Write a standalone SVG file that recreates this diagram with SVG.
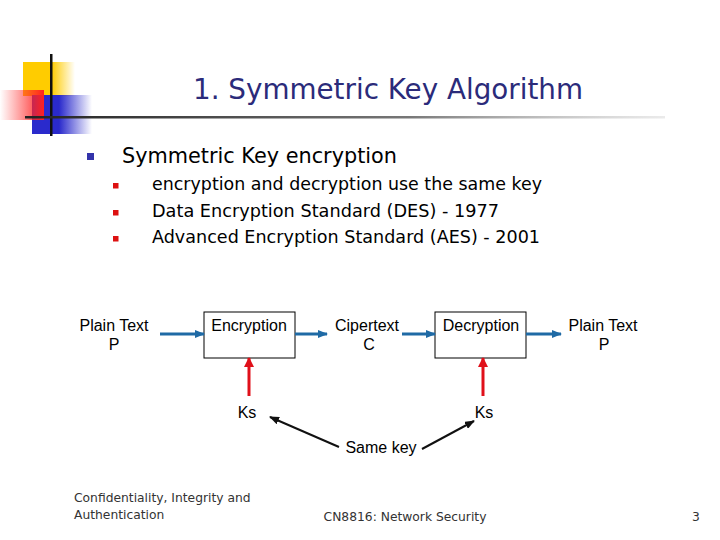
<svg xmlns="http://www.w3.org/2000/svg" width="720" height="540" viewBox="0 0 720 540">
<defs>
<linearGradient id="gy" x1="0" x2="1" y1="0" y2="0"><stop offset="0" stop-color="#ffcc00"/><stop offset="0.55" stop-color="#ffcc00"/><stop offset="1" stop-color="#ffcc00" stop-opacity="0"/></linearGradient>
<linearGradient id="gr" x1="0" x2="1" y1="0" y2="0"><stop offset="0" stop-color="#ff3333" stop-opacity="0"/><stop offset="1" stop-color="#ff2020"/></linearGradient>
<linearGradient id="gb" x1="0" x2="1" y1="0" y2="0"><stop offset="0" stop-color="#2a2acc"/><stop offset="0.45" stop-color="#2a2acc"/><stop offset="1" stop-color="#2a2acc" stop-opacity="0"/></linearGradient>
<linearGradient id="gl" x1="0" x2="1" y1="0" y2="0"><stop offset="0" stop-color="#222"/><stop offset="0.6" stop-color="#777"/><stop offset="1" stop-color="#bbb" stop-opacity="0.3"/></linearGradient>
<marker id="ab" markerWidth="10" markerHeight="8" refX="9" refY="4" orient="auto" markerUnits="userSpaceOnUse"><path d="M0,0 L10,4 L0,8 z" fill="#1f6aa5"/></marker>
<marker id="ar" markerWidth="10" markerHeight="10" refX="9" refY="5" orient="auto" markerUnits="userSpaceOnUse"><path d="M0,0 L10,5 L0,10 z" fill="#e0101a"/></marker>
<marker id="ak" markerWidth="10" markerHeight="8" refX="9" refY="4" orient="auto" markerUnits="userSpaceOnUse"><path d="M0,0 L10,4 L0,8 z" fill="#111"/></marker>
</defs>
<style>
.t{font-family:"DejaVu Sans",Verdana,sans-serif;fill:#2b2b7a}
.b{font-family:"DejaVu Sans",Verdana,sans-serif;fill:#000}
.d{font-family:"Liberation Sans",Arial,sans-serif;font-size:16px;fill:#000;text-anchor:middle}
.f{font-family:"DejaVu Sans",Verdana,sans-serif;font-size:12.3px;fill:#333}
.box{fill:#fff;stroke:#000;stroke-width:1}
.bl{stroke:#1f6aa5;stroke-width:3;fill:none;marker-end:url(#ab)}
.rd{stroke:#e0101a;stroke-width:3;fill:none;marker-end:url(#ar)}
.bk{stroke:#111;stroke-width:2;fill:none;marker-end:url(#ak)}
</style>
<rect width="720" height="540" fill="#fff"/>
<g id="logo">
<rect x="23" y="62" width="52" height="34" fill="url(#gy)"/>
<rect x="32" y="95" width="60" height="39" fill="url(#gb)"/>
<rect x="0" y="90" width="44" height="30" fill="url(#gr)"/>
<rect x="50" y="54" width="2.5" height="82" fill="#111"/>
<rect x="25" y="116" width="640" height="2.5" fill="url(#gl)"/>
</g>
<text class="t" x="388" y="99" font-size="28" text-anchor="middle" textLength="390" lengthAdjust="spacingAndGlyphs">1. Symmetric Key Algorithm</text>
<g id="bullets">
<rect x="87" y="153" width="7" height="7" fill="#3333aa"/>
<text class="b" x="122" y="163" font-size="22" textLength="275" lengthAdjust="spacingAndGlyphs">Symmetric Key encryption</text>
<rect x="113" y="183" width="5.5" height="5.5" fill="#dd1111"/>
<rect x="113" y="210" width="5.5" height="5.5" fill="#dd1111"/>
<rect x="113" y="236" width="5.5" height="5.5" fill="#dd1111"/>
<text class="b" x="152" y="190" font-size="18" textLength="390" lengthAdjust="spacingAndGlyphs">encryption and decryption use the same key</text>
<text class="b" x="152" y="217" font-size="18" textLength="347" lengthAdjust="spacingAndGlyphs">Data Encryption Standard (DES) - 1977</text>
<text class="b" x="152" y="243" font-size="18" textLength="388" lengthAdjust="spacingAndGlyphs">Advanced Encryption Standard (AES) - 2001</text>
</g>
<g id="plain1"><text class="d" x="114" y="331">Plain Text</text><text class="d" x="114" y="350">P</text></g>
<g id="encryption"><rect class="box" x="204" y="312" width="91" height="46"/><text class="d" x="249" y="331">Encryption</text></g>
<g id="cipher"><text class="d" x="367" y="331">Cipertext</text><text class="d" x="369" y="350">C</text></g>
<g id="decryption"><rect class="box" x="435" y="312" width="91" height="46"/><text class="d" x="481" y="331">Decryption</text></g>
<g id="plain2"><text class="d" x="603" y="331">Plain Text</text><text class="d" x="604" y="350">P</text></g>
<g id="ks1"><text class="d" x="247" y="418">Ks</text></g>
<g id="ks2"><text class="d" x="484" y="418">Ks</text></g>
<g id="samekey"><text class="d" x="381" y="453">Same key</text></g>
<g id="connectors">
<line class="bl" x1="160" y1="334" x2="204" y2="334"/>
<line class="bl" x1="295" y1="334" x2="327" y2="334"/>
<line class="bl" x1="402" y1="334" x2="435" y2="334"/>
<line class="bl" x1="526" y1="334" x2="561" y2="334"/>
<line class="rd" x1="249" y1="396" x2="249" y2="358"/>
<line class="rd" x1="483" y1="396" x2="483" y2="358"/>
<line class="bk" x1="339" y1="447" x2="270" y2="417"/>
<line class="bk" x1="422" y1="449" x2="474" y2="421"/>
</g>
<g id="footer">
<text class="f" x="74" y="502">Confidentiality, Integrity and</text>
<text class="f" x="74" y="519">Authentication</text>
<text class="f" x="405" y="521" text-anchor="middle">CN8816: Network Security</text>
<text class="f" x="692" y="521">3</text>
</g>
</svg>
